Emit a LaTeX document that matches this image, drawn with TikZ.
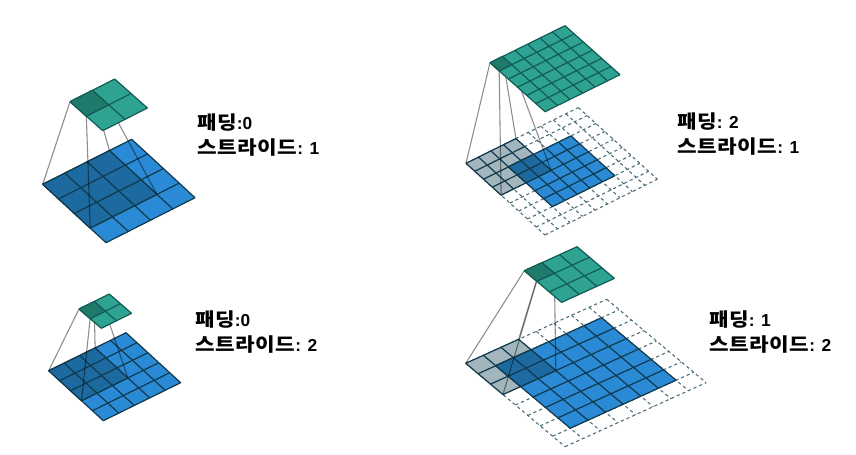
\documentclass[tikz,border=0pt]{standalone}
\usepackage{fontspec}
\setmainfont{Liberation Sans}
\newfontfamily\krfont[FakeStretch=1.14,LetterSpace=3]{Noto Sans CJK KR}
\definecolor{inblue}{HTML}{2A8AD6}
\definecolor{kernblue}{HTML}{1C6AA0}
\definecolor{outgreen}{HTML}{2EA392}
\definecolor{kerngreen}{HTML}{1F7A6C}
\definecolor{padgray}{HTML}{A3B5BD}
\definecolor{edgeline}{HTML}{103A4C}
\definecolor{greenline}{HTML}{125C56}
\definecolor{padline}{HTML}{4A6C78}
\tikzset{
	plane/.style n args={6}{shift={(#1,#2)},x={(#3*0.75pt,#4*0.75pt)},y={(#5*0.75pt,#6*0.75pt)}},
	gridline/.style={draw=edgeline,line width=0.9pt},
	outline/.style={draw=greenline,line width=0.9pt},
	dashline/.style={draw=padline,line width=0.8pt,dash pattern=on 2.4pt off 2.2pt},
	wire/.style={draw=black!45,line width=0.8pt},
	caption/.style={anchor=west,align=left,font=\fontsize{13}{18.75}\selectfont\bfseries}
}
% filled block of cells: [line style]{fill}{i}{j}{n}{m}
\newcommand{\cells}[6][gridline]{
	\path[fill=#2] (#3,#4) -- ++(#5,0) -- ++(0,#6) -- ++(-#5,0) -- cycle;
	\foreach \k in {0,...,#5} \draw[#1] (#3+\k,#4) -- (#3+\k,#4+#6);
	\foreach \k in {0,...,#6} \draw[#1] (#3,#4+\k) -- (#3+#5,#4+\k);
}
% corners of a square window of size n
\newcommand{\corners}[2]{
	\coordinate (#11) at (0,0);
	\coordinate (#12) at (#2,0);
	\coordinate (#13) at (#2,#2);
	\coordinate (#14) at (0,#2);
}
\newcommand{\kr}[1]{{\krfont\fontsize{14}{18.75}\selectfont #1}}
\begin{document}
\begin{tikzpicture}[x=0.75pt,y=-0.75pt]
	\useasboundingbox (0,0) rectangle (856,454);

	% padding 0, stride 1
	\begin{scope}[plane={42.7}{184.3}{22.25}{11.25}{15.83}{-14.6}]
		\cells{inblue}{0}{0}{4}{4}
		\cells{kernblue}{0}{0}{3}{3}
		\corners{ina}{3}
	\end{scope}
	\begin{scope}[plane={70}{101.7}{22.35}{11.35}{16.35}{-14.5}]
		\corners{outa}{1}
	\end{scope}
	\begin{scope}[blend mode=multiply]
		\foreach \c in {1,2,3,4} \draw[wire] (outa\c) -- (ina\c);
	\end{scope}
	\begin{scope}[plane={70}{101.7}{22.35}{11.35}{16.35}{-14.5}]
		\cells[outline]{outgreen}{0}{0}{2}{2}
		\cells[outline]{kerngreen}{0}{0}{1}{1}
	\end{scope}
	\node[caption] (capa) at (192.5,135) {\kr{패딩}:0\\\kr{스트라이드}: 1};

	% padding 0, stride 2
	\begin{scope}[plane={48.7}{370.7}{15.47}{7.6}{10.92}{-10}]
		\cells{inblue}{0}{0}{5}{5}
		\cells{kernblue}{0}{0}{3}{3}
		\corners{inb}{3}
	\end{scope}
	\begin{scope}[plane={79}{309}{15.15}{7.5}{11.15}{-9.65}]
		\corners{outb}{1}
	\end{scope}
	\begin{scope}[blend mode=multiply]
		\foreach \c in {1,2,3,4} \draw[wire] (outb\c) -- (inb\c);
	\end{scope}
	\begin{scope}[plane={79}{309}{15.15}{7.5}{11.15}{-9.65}]
		\cells[outline]{outgreen}{0}{0}{2}{2}
		\cells[outline]{kerngreen}{0}{0}{1}{1}
	\end{scope}
	\node[caption] (capb) at (190.5,332.5) {\kr{패딩}:0\\\kr{스트라이드}: 2};

	% padding 2, stride 1
	\begin{scope}[plane={466}{163.3}{12.48}{6.19}{8.78}{-7.96}]
		\cells[dashline]{none}{0}{0}{9}{9}
		\cells{padgray}{0}{0}{4}{4}
		\cells{inblue}{2}{2}{5}{5}
		\cells{kernblue}{2}{2}{2}{2}
		\corners{inc}{4}
	\end{scope}
	\begin{scope}[plane={490}{62.7}{12.5}{6.17}{9.17}{-8.17}]
		\corners{outc}{1}
	\end{scope}
	\begin{scope}[blend mode=multiply]
		\foreach \c in {1,2,3,4} \draw[wire] (outc\c) -- (inc\c);
	\end{scope}
	\begin{scope}[plane={490}{62.7}{12.5}{6.17}{9.17}{-8.17}]
		\cells[outline]{outgreen}{0}{0}{6}{6}
		\cells[outline]{kerngreen}{0}{0}{1}{1}
	\end{scope}
	\node[caption] (capc) at (672.5,134.5) {\kr{패딩}: 2\\\kr{스트라이드}: 1};

	% padding 1, stride 2
	\begin{scope}[plane={465.7}{363.3}{17.63}{8}{12.42}{-10.42}]
		\cells[dashline]{none}{0}{0}{8}{8}
		\cells{padgray}{0}{0}{3}{3}
		\cells{inblue}{1}{1}{6}{6}
		\cells{kernblue}{1}{1}{2}{2}
		\corners{ind}{3}
	\end{scope}
	\begin{scope}[plane={524.3}{270.7}{17.6}{8}{12.44}{-10.56}]
		\corners{outd}{1}
	\end{scope}
	\begin{scope}[blend mode=multiply]
		\foreach \c in {1,2,3,4} \draw[wire] (outd\c) -- (ind\c);
	\end{scope}
	\begin{scope}[plane={524.3}{270.7}{17.6}{8}{12.44}{-10.56}]
		\cells[outline]{outgreen}{0}{0}{3}{3}
		\cells[outline]{kerngreen}{0}{0}{1}{1}
	\end{scope}
	\node[caption] (capd) at (704.5,332.5) {\kr{패딩}: 1\\\kr{스트라이드}: 2};
\end{tikzpicture}
\end{document}
